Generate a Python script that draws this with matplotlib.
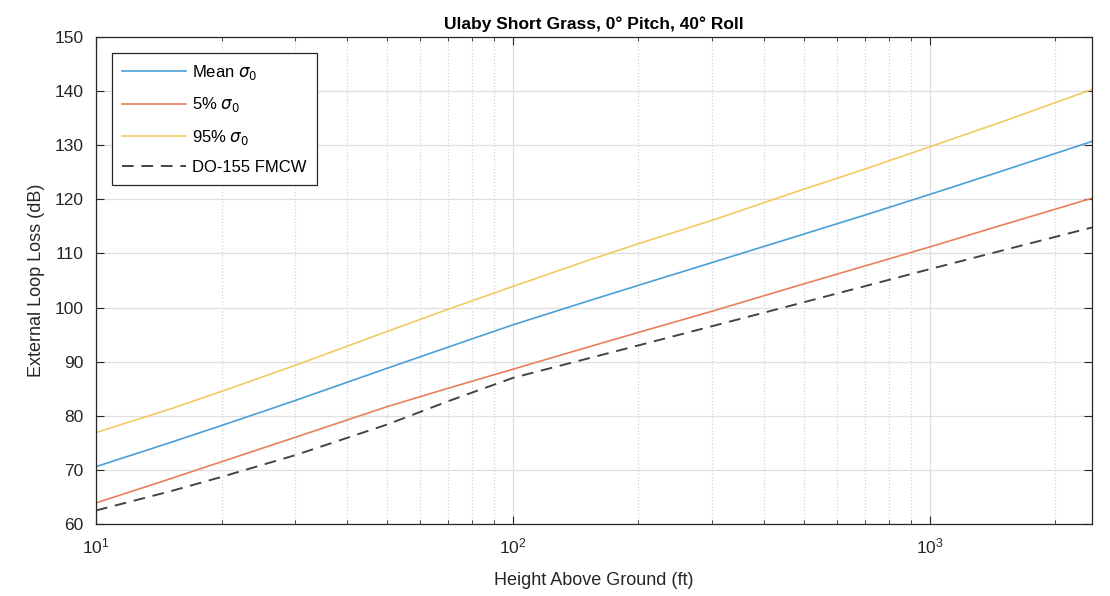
import matplotlib
matplotlib.use("Agg")
import matplotlib.pyplot as plt
from matplotlib.ticker import LogLocator, FixedLocator, NullFormatter

plt.rcParams['font.family'] = ['Liberation Sans', 'DejaVu Sans']

# heights above ground (ft)
height = [10, 15, 20, 30, 50, 70, 100, 150, 200, 300, 500, 700, 1000, 1500, 2450]

# loop loss curves (dB)
mean_loss = [70.6, 75.0, 78.2, 82.8, 88.8, 92.7, 96.8, 101.1, 104.1, 108.3,
             113.6, 117.1, 120.9, 125.3, 130.7]
p5_loss = [63.9, 68.3, 71.5, 76.0, 81.7, 85.1, 88.6, 92.6, 95.4, 99.3,
           104.4, 107.7, 111.2, 115.3, 120.2]
p95_loss = [76.9, 81.2, 84.5, 89.3, 95.6, 99.7, 103.9, 108.6, 111.8, 116.1,
            121.9, 125.6, 129.7, 134.4, 140.3]

do155_height = [10, 15, 20, 30, 50, 70, 100, 200, 500, 1000, 2450]
do155_loss = [62.5, 66.0, 68.7, 72.7, 78.4, 82.7, 87.0, 93.0, 101.0, 107.1, 114.8]

blue = '#4a9fd8'
red = '#e8805c'
yellow = '#f3c964'
dark = '#262626'

fig = plt.figure(figsize=(11.1, 5.96), dpi=100)
ax = fig.add_axes([0.0865, 0.1208, 0.8973, 0.8172])

ax.plot(height, mean_loss, color=blue, lw=1.2, label=r'Mean $\sigma_0$')
ax.plot(height, p5_loss, color=red, lw=1.2, label=r'5% $\sigma_0$')
ax.plot(height, p95_loss, color=yellow, lw=1.2, label=r'95% $\sigma_0$')
ax.plot(do155_height, do155_loss, color='#444444', lw=1.4, ls=(0, (6, 4)),
        label='DO-155 FMCW')

ax.set_xscale('log')
ax.set_xlim(10, 2450)
ax.set_ylim(60, 150)
ax.yaxis.set_major_locator(FixedLocator(range(60, 151, 10)))
ax.xaxis.set_minor_locator(LogLocator(base=10, subs=range(2, 10)))
ax.xaxis.set_minor_formatter(NullFormatter())

# matlab-ish grid: solid major, dotted minor on x only
ax.grid(True, which='major', color='#dfdfdf', lw=0.9, ls='-')
ax.grid(True, which='minor', axis='x', color='#d4d4d4', lw=0.9, ls=':')
ax.set_axisbelow(True)

ax.tick_params(which='both', direction='in', top=True, right=True, colors=dark,
               labelsize=12.5)
ax.tick_params(which='major', length=6, pad=9)
ax.tick_params(which='minor', length=3)
for s in ax.spines.values():
    s.set_color(dark)
    s.set_linewidth(0.9)

ax.set_xlabel('Height Above Ground (ft)', fontsize=13, color=dark, labelpad=11)
ax.set_ylabel('External Loop Loss (dB)', fontsize=13, color=dark, labelpad=7)
ax.set_title('Ulaby Short Grass, 0° Pitch, 40° Roll', fontsize=12.5,
             fontweight='bold', color='black', pad=6)

leg = ax.legend(loc='upper left', bbox_to_anchor=(0.0165, 0.967), fancybox=False,
                framealpha=1, edgecolor=dark, fontsize=12, handlelength=3.8,
                handletextpad=0.4, labelspacing=0.8, borderpad=0.6,
                borderaxespad=0.0)
leg.get_frame().set_linewidth(0.9)

fig.savefig('out.png', dpi=100)
